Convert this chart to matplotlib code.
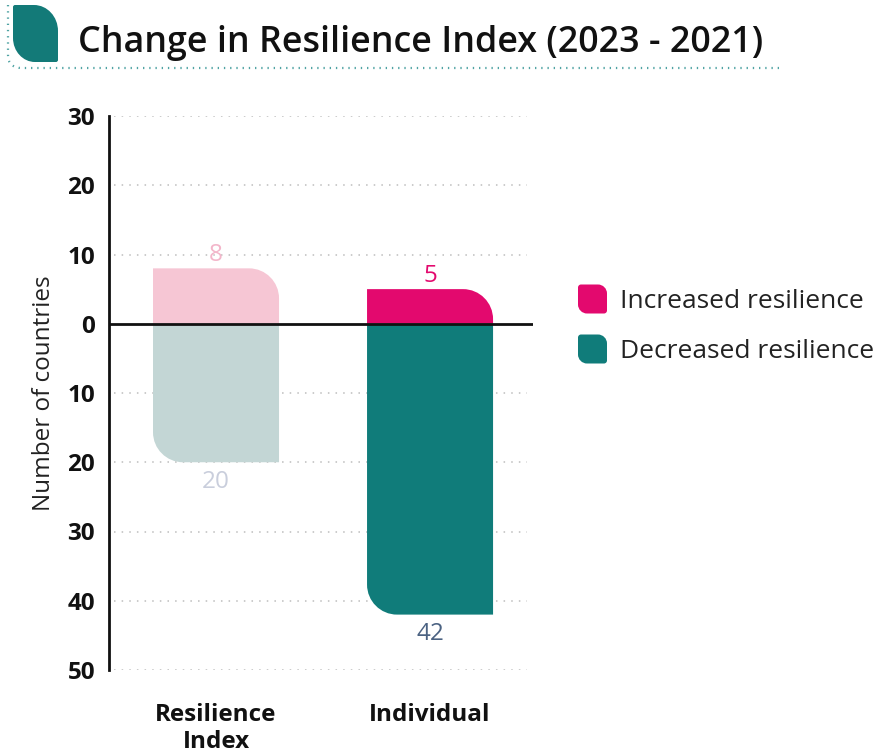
import matplotlib
matplotlib.use("Agg")
import matplotlib.pyplot as plt
from matplotlib.path import Path
from matplotlib.patches import PathPatch
from matplotlib.transforms import Affine2D

# ---- data ----
categories = ["Resilience\nIndex", "Individual"]
increased = [8, 5]
decreased = [20, 42]
inc_colors = ["#F6C6D4", "#E3096E"]
dec_colors = ["#C3D6D5", "#107C7A"]
inc_label_colors = ["#F3B6CA", "#E3096E"]
dec_label_colors = ["#C9CEDC", "#4B6282"]
yticks = [30, 20, 10, 0, -10, -20, -30, -40, -50]
legend_labels = ["Increased resilience", "Decreased resilience"]
legend_colors = ["#E3096E", "#107C7A"]
title = "Change in Resilience Index (2023 - 2021)"

W, H = 881, 755
fig = plt.figure(figsize=(W / 100, H / 100), dpi=100)
FONT = "Open Sans"

K = 0.5523


def rrect(x0, y0, x1, y1, tl=(0, 0), tr=(0, 0), br=(0, 0), bl=(0, 0)):
    verts, codes = [], []

    def corner(p0, c, p3):
        p1 = (p0[0] + K * (c[0] - p0[0]), p0[1] + K * (c[1] - p0[1]))
        p2 = (p3[0] + K * (c[0] - p3[0]), p3[1] + K * (c[1] - p3[1]))
        verts.extend([p1, p2, p3])
        codes.extend([Path.CURVE4] * 3)

    verts.append((x0 + bl[0], y0)); codes.append(Path.MOVETO)
    verts.append((x1 - br[0], y0)); codes.append(Path.LINETO)
    corner((x1 - br[0], y0), (x1, y0), (x1, y0 + br[1]))
    verts.append((x1, y1 - tr[1])); codes.append(Path.LINETO)
    corner((x1, y1 - tr[1]), (x1, y1), (x1 - tr[0], y1))
    verts.append((x0 + tl[0], y1)); codes.append(Path.LINETO)
    corner((x0 + tl[0], y1), (x0, y1), (x0, y1 - tl[1]))
    verts.append((x0, y0 + bl[1])); codes.append(Path.LINETO)
    corner((x0, y0 + bl[1]), (x0, y0), (x0 + bl[0], y0))
    verts.append((x0 + bl[0], y0)); codes.append(Path.CLOSEPOLY)
    return Path(verts, codes)


PIX = Affine2D().scale(1 / W, 1 / H) + fig.transFigure


def ppatch(x0, ytop, x1, ybot, color, **radii):
    p = rrect(x0, H - ybot, x1, H - ytop, **radii)
    fig.patches.append(PathPatch(p, facecolor=color, edgecolor="none", transform=PIX))


# ---- axes ----
ax = fig.add_axes([109 / W, 1 - 670 / H, (533 - 109) / W, (670 - 116) / H])
x = list(range(len(categories)))
ax.set_xlim(-0.5, 1.481)
ax.set_ylim(-50, 30)
bw = 126 / 214
rx = 30 / 214
ry = 30 / 6.925

for i in x:
    x0, x1 = i - bw / 2, i + bw / 2
    p = rrect(x0, 0, x1, increased[i], tr=(rx, min(ry, increased[i])))
    ax.add_patch(PathPatch(p, facecolor=inc_colors[i], edgecolor="none", zorder=2))
    p = rrect(x0, -decreased[i], x1, 0, bl=(rx, ry))
    ax.add_patch(PathPatch(p, facecolor=dec_colors[i], edgecolor="none", zorder=2))
    ax.text(i, increased[i] + 0.2, str(increased[i]), ha="center", va="bottom",
            color=inc_label_colors[i], fontsize=17.5, family=FONT)
    ax.text(i, -decreased[i] - 1.1, str(decreased[i]), ha="center", va="top",
            color=dec_label_colors[i], fontsize=17.5, family=FONT)

for t in yticks:
    if t != 0:
        ax.axhline(t, xmin=0.012, xmax=0.985, color="#BDBDBD", lw=1.1,
                   linestyle=(0, (1, 4)), zorder=1)
ax.axhline(0, color="#111111", lw=2, zorder=3)

ax.set_yticks(yticks)
ax.set_yticklabels([str(abs(t)) for t in yticks], family=FONT,
                   fontweight="bold", fontsize=17.5, color="#111111")
ax.tick_params(axis="y", length=0, pad=10)
ax.set_xticks(x)
ax.set_xticklabels(categories, family=FONT, fontweight="bold", fontsize=17.5,
                   color="#111111", linespacing=1.15)
ax.tick_params(axis="x", length=0, pad=24)
for s in ["top", "right", "bottom"]:
    ax.spines[s].set_visible(False)
ax.spines["left"].set_linewidth(2)
ax.spines["left"].set_color("#111111")
ax.set_ylabel("Number of countries", family=FONT, fontsize=17.5,
              color="#222222", labelpad=8)
ax.patch.set_alpha(0)

# ---- title and decorations ----
fig.text(78 / W, 1 - 43 / H, title, family=FONT, fontweight="semibold",
         fontsize=25.8, color="#111111", ha="left", va="center")
ppatch(13, 5, 58, 62, "#137A78", tr=(24, 26), bl=(22, 24), tl=(2, 2), br=(2, 2))

frame_path = Path([(8, H - 5), (8, H - 55), (8, H - 68), (22, H - 68), (783, H - 68)],
                  [Path.MOVETO, Path.LINETO, Path.CURVE3, Path.CURVE3, Path.LINETO])
fig.patches.append(PathPatch(frame_path, facecolor="none", edgecolor="#4FA3A3",
                             lw=1.6, linestyle=(0, (0.6, 2.2)), transform=PIX))

# ---- legend ----
leg_y = [299, 349]
for yc, lab, col in zip(leg_y, legend_labels, legend_colors):
    ppatch(578, yc - 14.5, 607, yc + 14.5, col, tr=(9, 9), bl=(9, 9), tl=(3, 3), br=(3, 3))
    fig.text(620 / W, 1 - (yc + 2) / H, lab, family=FONT, fontsize=19,
             color="#222222", ha="left", va="center")

fig.savefig("out.png", dpi=100)
